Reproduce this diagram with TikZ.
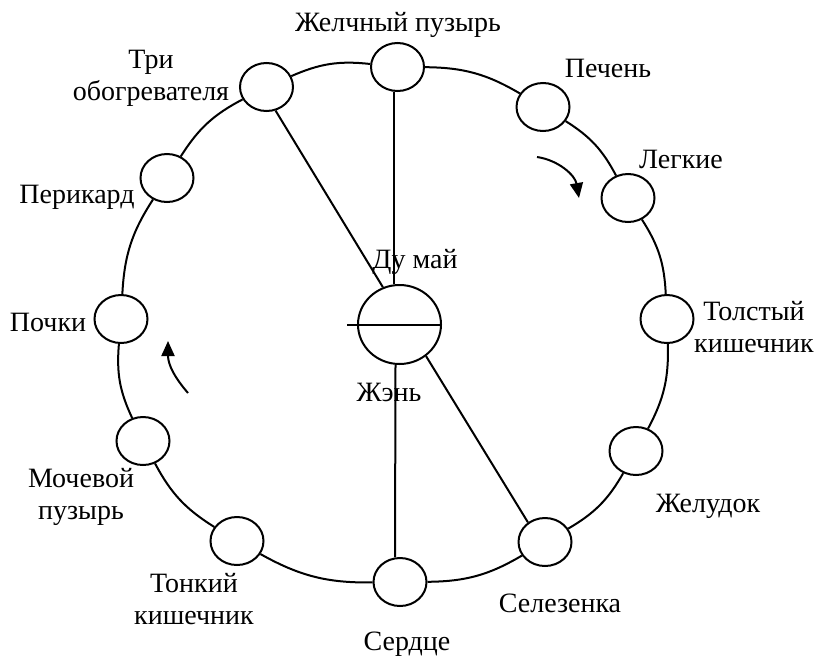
\documentclass[tikz,border=0pt]{standalone}
\usepackage{fontspec}
\setmainfont{Liberation Serif}
\usetikzlibrary{shapes.geometric,arrows.meta}
\begin{document}
\begin{tikzpicture}[x=1pt,y=-1pt,
  organ/.style={ellipse,draw,line width=2pt,fill=white,minimum width=53pt,minimum height=48pt,inner sep=0pt},
  hub/.style={ellipse,draw,line width=2pt,fill=white,minimum width=83pt,minimum height=79pt,inner sep=0pt},
  lbl/.style={font=\fontsize{28pt}{32pt}\selectfont,inner sep=0pt,anchor=base,align=center},
  link/.style={line width=2pt},
  ring/.style={line width=2pt,bend left=15},
  flow/.style={line width=2pt,-{Triangle[length=15pt,width=13pt]}}]
\useasboundingbox (0,0) rectangle (818,656);
% organ circles
\node[organ] (gb)   at (397.5,67) {};
\node[organ] (pech) at (543,107) {};
\node[organ] (leg)  at (628,198) {};
\node[organ] (tol)  at (667,319) {};
\node[organ] (zhel) at (636,451) {};
\node[organ] (sel)  at (545,542) {};
\node[organ] (serd) at (400,582) {};
\node[organ] (tonk) at (237,541) {};
\node[organ] (moch) at (143,441) {};
\node[organ] (poch) at (121,319) {};
\node[organ] (peri) at (167,178) {};
\node[organ] (tri)  at (266.5,87) {};
\node[hub]   (dz)   at (399.5,324.5) {};
% ring
\draw[ring] (gb) to (pech);
\draw[ring] (pech) to (leg);
\draw[ring] (leg) to (tol);
\draw[ring] (tol) to (zhel);
\draw[ring] (zhel) to (sel);
\draw[ring] (sel) to (serd);
\draw[ring] (serd) to (tonk);
\draw[ring] (tonk) to (moch);
\draw[ring] (moch) to (poch);
\draw[ring] (poch) to (peri);
\draw[ring] (peri) to (tri);
\draw[ring] (tri) to (gb);
% spokes
\draw[link] ([xshift=-3.5pt]gb.south) -- ([xshift=-5.5pt]dz.north);
\draw[link] ([xshift=-4pt]dz.south) -- ([xshift=-5pt]serd.north);
\draw[link] (tri.-69) -- (dz.114);
\draw[link] (dz.-50) -- (sel.131);
\draw[link] ([xshift=-10pt]dz.west) -- (dz.east);
% arrows
\coordinate (a1s) at (537,157);
\coordinate (a1e) at (579,198);
\draw[flow] (a1s) .. controls (558,160) and (575,175) .. (a1e);
\coordinate (a2s) at (188,393);
\coordinate (a2e) at (168,341);
\draw[flow] (a2s) .. controls (175,378) and (168,365) .. (a2e);
% labels (base anchor = baseline of the last line)
\node[lbl] (tgb)   at (398,31)  {Желчный пузырь};
\node[lbl] (ttri)  at (151,100) {Три\\обогревателя};
\node[lbl] (tpech) at (608,77)  {Печень};
\node[lbl] (tleg)  at (681,168) {Легкие};
\node[lbl] (tperi) at (77,203)  {Перикард};
\node[lbl] (tpoch) at (48,331)  {Почки};
\node[lbl] (ttol)  at (754,352) {Толстый\\кишечник};
\node[lbl] (tmoch) at (81,519)  {Мочевой\\пузырь};
\node[lbl] (ttonk) at (194,624) {Тонкий\\кишечник};
\node[lbl] (tsel)  at (560,612) {Селезенка};
\node[lbl] (tzhel) at (708,512) {Желудок};
\node[lbl] (tserd) at (407,650) {Сердце};
\node[lbl] (tdu)   at (415,268) {Ду май};
\node[lbl] (tzh)   at (389,401) {Жэнь};
\end{tikzpicture}
\end{document}
